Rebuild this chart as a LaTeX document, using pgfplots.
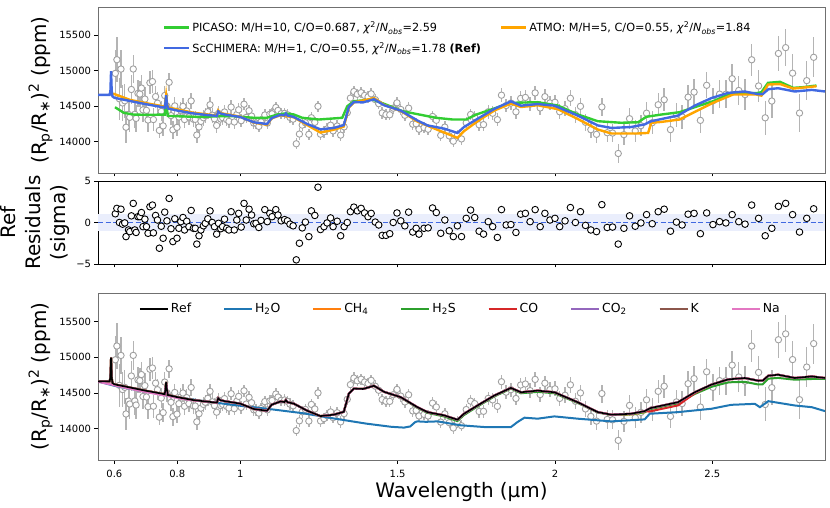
\documentclass[border=0pt]{standalone}
\usepackage{fontspec}
\setmainfont{DejaVu Sans}
\usepackage{pgfplots}
\pgfplotsset{compat=1.18}
\usepackage{pgfplotstable}

\definecolor{picaso}{HTML}{32CD32}
\definecolor{atmo}{HTML}{FFA500}
\definecolor{chimera}{HTML}{4169E1}
\definecolor{tabblue}{HTML}{1F77B4}
\definecolor{taborange}{HTML}{FF7F0E}
\definecolor{tabgreen}{HTML}{2CA02C}
\definecolor{tabred}{HTML}{D62728}
\definecolor{tabpurple}{HTML}{9467BD}
\definecolor{tabbrown}{HTML}{8C564B}
\definecolor{tabpink}{HTML}{E377C2}
\definecolor{errgray}{HTML}{B4B4B4}
\definecolor{markgray}{HTML}{A0A0A0}
\definecolor{band}{RGB}{234,238,252}
\definecolor{framegray}{HTML}{707070}

% observed spectrum: wavelength, depth (ppm), error (ppm), residual (sigma)
\pgfplotstableread{
x y err r
0.603 14964 330 1.05
0.608 15157 320 1.7
0.616 14606 300 0.0
0.621 15025 265 1.6
0.626 14547 250 -0.2
0.633 14578 240 -0.05
0.637 14205 225 -1.7
0.645 14386 215 -0.9
0.649 14345 210 -1.1
0.654 14737 207 0.8
0.660 15026 200 2.3
0.665 14387 195 -0.9
0.669 14330 190 -1.2
0.675 14682 185 0.7
0.681 14673 180 0.7
0.686 14757 178 1.2
0.691 14450 175 -0.5
0.697 14602 172 0.4
0.702 14443 170 -0.5
0.707 14307 167 -1.3
0.713 14832 164 1.9
0.721 14849 160 2.1
0.724 14313 158 -1.25
0.731 14637 155 0.85
0.737 14545 150 0.3
0.743 14160 110 -3.1
0.749 14428 140 -0.45
0.755 14224 138 -1.9
0.760 14652 136 1.25
0.767 14503 134 0.2
0.774 14838 127 2.9
0.780 14369 127 -0.75
0.786 14168 126 -2.3
0.792 14506 125 0.45
0.799 14203 125 -1.9
0.805 14349 124 -0.7
0.811 14443 123 0.1
0.818 14499 122 0.6
0.823 14313 121 -0.9
0.830 14434 120 0.15
0.837 14350 119 -0.5
0.844 14576 118 1.45
0.851 14318 116 -0.7
0.857 14316 115 -0.7
0.862 14095 115 -2.6
0.869 14209 113 -1.6
0.875 14287 111 -0.9
0.883 14339 110 -0.4
0.889 14369 108 -0.1
0.897 14424 106 0.45
0.904 14522 105 1.4
0.911 14375 104 0.0
0.918 14324 102 -0.5
0.925 14230 100 -1.4
0.931 14400 99 -0.1
0.938 14322 98 -0.75
0.944 14340 97 -0.5
0.950 14420 96 0.4
0.957 14311 95 -0.7
0.964 14288 94 -0.9
0.971 14489 93 1.3
0.981 14279 92 -0.9
0.989 14384 90 0.3
0.995 14451 89 1.1
1.003 14297 88 -0.55
1.012 14530 87 2.3
1.019 14344 86 0.3
1.028 14438 85 1.6
1.036 14363 84 0.9
1.043 14263 83 -0.15
1.050 14263 82 -0.1
1.059 14217 81 -0.6
1.066 14281 80 0.25
1.078 14378 80 1.55
1.086 14263 80 0.1
1.094 14388 80 1.1
1.101 14394 80 0.7
1.113 14484 80 1.55
1.120 14442 80 0.9
1.130 14396 80 0.2
1.141 14401 80 0.35
1.150 14381 80 0.2
1.158 14343 80 -0.2
1.168 14319 80 -0.4
1.178 13972 80 -4.5
1.188 14109 80 -2.5
1.197 14235 80 -0.65
1.207 14268 80 0.05
1.218 14105 80 -1.7
1.226 14339 80 1.4
1.237 14275 80 0.85
1.247 14500 80 4.25
1.255 14107 80 -0.85
1.266 14140 80 -0.5
1.276 14181 80 -0.05
1.287 14234 80 0.55
1.295 14154 80 -0.5
1.308 14222 80 0.15
1.319 14094 80 -1.6
1.330 14210 80 -0.5
1.340 14410 80 0.0
1.350 14616 80 1.3
1.361 14708 80 1.85
1.372 14670 80 1.4
1.384 14692 80 1.7
1.395 14653 80 1.15
1.406 14632 80 0.7
1.416 14676 80 1.1
1.429 14594 80 0.05
1.440 14537 80 -0.3
1.451 14407 80 -1.55
1.463 14382 80 -1.55
1.475 14381 80 -1.35
1.486 14474 80 0.0
1.498 14549 80 1.15
1.510 14456 80 0.2
1.523 14374 80 -0.4
1.535 14474 80 1.25
1.548 14248 80 -1.15
1.559 14254 80 -0.7
1.568 14177 80 -1.4
1.584 14199 80 -0.7
1.597 14177 80 -0.65
1.611 14357 80 1.75
1.623 14303 80 1.2
1.637 14091 80 -1.3
1.650 14207 80 0.3
1.664 14083 80 -1.0
1.677 14008 80 -1.7
1.690 14093 80 -0.4
1.703 14040 80 -1.7
1.718 14267 80 0.5
1.732 14385 80 1.5
1.745 14350 80 0.6
1.759 14240 92 -1.05
1.773 14242 94 -1.4
1.788 14423 95 0.1
1.802 14402 96 -0.5
1.817 14312 96 -1.8
1.830 14657 96 1.55
1.845 14511 97 -0.3
1.860 14546 97 -0.25
1.876 14422 98 -1.2
1.891 14611 100 1.0
1.906 14625 100 1.1
1.921 14532 102 0.1
1.937 14689 103 1.55
1.953 14477 103 -0.5
1.968 14636 104 1.1
1.984 14547 104 0.3
2.000 14557 105 0.5
2.015 14423 107 -0.5
2.032 14467 109 0.2
2.049 14613 111 1.8
2.065 14383 113 0.0
2.081 14500 115 1.3
2.097 14275 117 -0.35
2.114 14171 120 -0.9
2.132 14105 123 -1.1
2.149 14491 126 2.15
2.166 14128 130 -0.6
2.183 14123 133 -0.55
2.201 13835 140 -2.6
2.219 14101 145 -0.7
2.237 14325 148 0.8
2.255 14152 150 -0.45
2.273 14227 152 -0.05
2.291 14403 155 0.95
2.309 14269 158 -0.15
2.328 14522 162 1.3
2.347 14593 165 1.6
2.367 14171 168 -1.05
2.386 14374 170 0.05
2.404 14351 172 -0.3
2.423 14629 175 1.0
2.442 14700 178 1.1
2.462 14302 180 -1.35
2.482 14796 183 1.15
2.502 14577 186 -0.25
2.523 14672 195 0.1
2.543 14670 200 -0.05
2.563 14889 205 0.95
2.584 14723 210 0.1
2.604 14665 215 -0.2
2.625 15156 222 2.1
2.647 14787 230 0.5
2.668 14338 238 -1.6
2.689 14574 245 -0.7
2.710 15245 252 1.95
2.733 15327 258 2.3
2.755 14967 265 0.95
2.777 14405 270 -1.15
2.800 14862 275 0.5
2.822 15191 280 1.65
}\obs

% reference model (ScCHIMERA) and species contributions
\pgfplotstableread{
x ref h2s co ch4 k na
0.548 14660 14660 14660 14660 14660 14655
0.585 14662 14662 14662 14662 14662 14622
0.5875 14720 14720 14720 14720 14720 14620
0.5895 14995 14995 14995 14995 14995 14618
0.5915 14720 14720 14720 14720 14720 14616
0.594 14640 14640 14640 14640 14640 14614
0.600 14620 14620 14620 14620 14620 14605
0.650 14575 14575 14575 14575 14575 14558
0.700 14530 14530 14530 14530 14530 14512
0.750 14490 14490 14490 14490 14490 14472
0.760 14480 14480 14480 14480 14480 14462
0.7625 14560 14560 14560 14560 14478 14545
0.7645 14655 14655 14655 14655 14476 14640
0.7665 14560 14560 14560 14560 14474 14548
0.770 14470 14470 14470 14470 14470 14455
0.800 14440 14440 14440 14440 14440 14428
0.850 14400 14400 14400 14400 14400 14395
0.900 14375 14375 14375 14375 14375 14375
0.926 14365 14365 14365 14365 14365 14365
0.930 14425 14425 14425 14425 14425 14425
0.936 14400 14400 14400 14400 14400 14400
0.950 14385 14385 14385 14385 14385 14385
1.000 14350 14350 14350 14350 14350 14350
1.043 14275 14275 14275 14275 14275 14275
1.085 14250 14250 14250 14250 14250 14250
1.100 14335 14335 14335 14335 14335 14335
1.128 14380 14380 14380 14380 14380 14380
1.140 14372 14372 14372 14372 14372 14372
1.145 14400 14400 14400 14400 14400 14400
1.150 14370 14370 14370 14370 14370 14370
1.170 14350 14350 14350 14350 14350 14350
1.213 14250 14250 14250 14250 14250 14250
1.255 14175 14175 14175 14175 14175 14175
1.297 14195 14195 14195 14195 14195 14195
1.329 14235 14235 14235 14235 14235 14235
1.345 14490 14490 14490 14490 14490 14490
1.361 14560 14560 14560 14560 14560 14560
1.390 14555 14555 14555 14555 14555 14555
1.425 14600 14600 14600 14600 14600 14600
1.457 14515 14515 14515 14515 14515 14515
1.510 14440 14435 14440 14440 14440 14440
1.563 14300 14290 14300 14300 14300 14300
1.595 14231 14220 14231 14231 14231 14231
1.648 14185 14170 14185 14185 14185 14185
1.690 14125 14105 14125 14125 14125 14125
1.711 14208 14190 14208 14208 14208 14208
1.754 14324 14310 14324 14324 14324 14324
1.807 14463 14450 14463 14463 14463 14463
1.860 14570 14560 14570 14570 14570 14570
1.892 14509 14495 14509 14509 14509 14509
1.945 14532 14515 14532 14532 14532 14532
1.998 14509 14495 14509 14509 14509 14509
2.072 14370 14360 14370 14370 14370 14370
2.136 14231 14225 14231 14231 14231 14231
2.179 14195 14190 14195 14195 14195 14195
2.242 14208 14200 14208 14198 14208 14208
2.285 14245 14230 14245 14228 14245 14245
2.300 14280 14265 14238 14280 14280 14280
2.306 14290 14275 14245 14290 14290 14290
2.391 14370 14355 14325 14370 14370 14370
2.444 14509 14485 14495 14509 14509 14509
2.497 14616 14585 14616 14616 14616 14616
2.550 14689 14648 14689 14689 14689 14689
2.603 14709 14655 14709 14709 14709 14709
2.646 14671 14618 14671 14671 14671 14671
2.660 14672 14620 14672 14672 14672 14672
2.678 14741 14700 14741 14741 14741 14741
2.709 14755 14710 14755 14755 14755 14755
2.762 14709 14685 14709 14709 14709 14709
2.816 14731 14695 14731 14731 14731 14731
2.858 14709 14695 14709 14709 14709 14709
}\species

\pgfplotstableread{
x y
0.548 14660
0.600 14600
0.700 14515
0.800 14440
0.900 14375
1.000 14320
1.100 14270
1.200 14215
1.300 14140
1.400 14070
1.480 14025
1.520 14014
1.540 14030
1.556 14092
1.563 14101
1.590 14095
1.627 14101
1.701 14046
1.775 14022
1.860 14022
1.881 14092
1.903 14153
1.945 14139
1.998 14171
2.072 14139
2.179 14101
2.285 14129
2.301 14208
2.391 14231
2.497 14278
2.560 14333
2.635 14347
2.651 14300
2.678 14384
2.762 14324
2.816 14300
2.858 14245
}\water

\pgfplotstableread{
x y
0.602 14487
0.630 14408
0.660 14384
0.700 14380
0.760 14383
0.7625 14480
0.7645 14640
0.7665 14480
0.770 14365
0.800 14360
0.873 14350
0.930 14360
0.980 14360
1.043 14338
1.085 14338
1.117 14384
1.144 14400
1.170 14385
1.197 14338
1.250 14314
1.324 14338
1.340 14501
1.361 14572
1.420 14596
1.463 14525
1.516 14431
1.569 14384
1.622 14338
1.675 14314
1.718 14314
1.750 14384
1.797 14455
1.860 14549
1.945 14558
2.009 14511
2.073 14384
2.136 14290
2.210 14268
2.264 14275
2.290 14352
2.338 14384
2.396 14417
2.502 14572
2.566 14690
2.640 14685
2.656 14700
2.677 14831
2.715 14845
2.757 14760
2.789 14770
2.831 14793
}\picaso

\pgfplotstableread{
x y
0.596 14680
0.650 14590
0.700 14545
0.760 14495
0.7625 14570
0.7645 14650
0.7665 14570
0.770 14485
0.850 14410
0.926 14370
0.930 14440
0.936 14405
1.000 14355
1.043 14270
1.085 14240
1.100 14330
1.128 14375
1.170 14345
1.213 14235
1.255 14130
1.297 14170
1.329 14215
1.345 14480
1.361 14555
1.425 14615
1.457 14520
1.510 14435
1.563 14285
1.648 14130
1.690 14056
1.711 14150
1.754 14290
1.807 14440
1.860 14540
1.892 14490
1.945 14515
2.009 14460
2.073 14320
2.136 14173
2.179 14117
2.264 14117
2.296 14125
2.306 14268
2.338 14280
2.396 14314
2.502 14549
2.566 14666
2.640 14666
2.656 14650
2.677 14807
2.715 14814
2.757 14750
2.831 14783
}\atmo

\pgfplotsset{
  panel/.style={
    scale only axis, width=727bp,
    xmin=0.548, xmax=2.858,
    xtick={0.6,0.8,1,1.5,2,2.5},
    tick align=outside, major tick length=3.5bp,
    xtick pos=bottom, ytick pos=left,
    tick style={line width=0.8bp, black},
    tick label style={font=\fontsize{10}{12}\selectfont},
    /pgf/number format/assume math mode=true,
    scaled ticks=false,
    label style={font=\fontsize{20}{24}\selectfont},
    axis line style={line width=0.9bp},
    clip=true, clip marker paths=true,
  },
  spec/.style={
    panel, height=167bp, ymin=13560, ymax=15900,
    ytick={14000,14500,15000,15500},
    yticklabels={14000,14500,15000,15500},
    axis line style={line width=0.9bp, framegray},
    ylabel={(R\textsubscript{p}/R\textsubscript{∗})\textsuperscript{2} (ppm)},
  },
  datapts/.style={only marks, mark=*, mark size=3.2bp,
    mark options={fill=white, draw=markgray, line width=0.9bp},
    error bars/y dir=both, error bars/y explicit, error bars/error mark=none,
    error bars/error bar style={errgray, line width=1.4bp}},
}

\newcommand{\chisq}{\textit{χ}\textsuperscript{2}/\textit{N}\textsubscript{\textit{obs}}}

\begin{document}
\begin{tikzpicture}
\useasboundingbox (0,0) rectangle (830bp,508bp);

% ---------- top panel ----------
\begin{axis}[spec, at={(98bp,335bp)}, anchor=south west, height=166bp,
  xticklabels={},
  legend columns=2,
  legend cell align=left,
  legend style={at={(0.085,0.935)}, anchor=north west, draw=none, fill=none,
    font=\fontsize{11.3}{13}\selectfont,
    /tikz/every even column/.append style={column sep=17bp},
    row sep=5bp},
  legend image code/.code={\draw[#1] (0bp,0bp) -- (25bp,0bp);},
]
\addplot[forget plot, datapts] table[x=x, y=y, y error=err] {\obs};
\addplot[picaso, line width=2.4bp] table[x=x, y=y] {\picaso};
\addlegendentry{PICASO: M/H=10, C/O=0.687, \chisq=2.59}
\addplot[atmo, line width=2.4bp] table[x=x, y=y] {\atmo};
\addlegendentry{ATMO: M/H=5, C/O=0.55, \chisq=1.84}
\addplot[chimera, line width=2.4bp] table[x=x, y=ref] {\species};
\addlegendentry{ScCHIMERA: M/H=1, C/O=0.55, \chisq=1.78 \textbf{(Ref)}}
\end{axis}

% ---------- residual panel ----------
\begin{axis}[panel, at={(98bp,244bp)}, anchor=south west, height=83bp,
  xticklabels={},
  ymin=-5, ymax=5, ytick={-5,0,5}, yticklabels={−5,0,5},
  ylabel={Ref\\Residuals\\(sigma)},
  ylabel style={align=center, font=\fontsize{20}{25}\selectfont},
]
\addplot[draw=none, fill=band] coordinates {(0.548,1) (2.858,1)} \closedcycle;
\addplot[draw=none, fill=band] coordinates {(0.548,-1) (2.858,-1)} \closedcycle;
\addplot[chimera, line width=1.2bp, dash pattern=on 5bp off 2.5bp] coordinates {(0.548,0) (2.858,0)};
\addplot[only marks, mark=*, mark size=3.3bp,
  mark options={fill=white, draw=black, line width=0.9bp}] table[x=x, y=r] {\obs};
\end{axis}

% ---------- bottom panel ----------
\begin{axis}[spec, at={(98bp,48bp)}, anchor=south west,
  xticklabels={0.6,0.8,1,1.5,2,2.5},
  xticklabel style={yshift=-3bp},
  xlabel={Wavelength (µm)},
  xlabel style={yshift=2bp},
  legend columns=8,
  legend cell align=left,
  legend style={at={(0.052,0.965)}, anchor=north west, draw=none, fill=none,
    font=\fontsize{12.5}{14}\selectfont,
    /tikz/every even column/.append style={column sep=30bp}},
  legend image code/.code={\draw[#1] (0bp,0bp) -- (28bp,0bp);},
]
\addlegendimage{black, line width=2bp}
\addlegendentry{Ref}
\addplot[forget plot, datapts] table[x=x, y=y, y error=err] {\obs};
\addplot[tabblue, line width=2bp] table[x=x, y=y] {\water};
\addlegendentry{H\textsubscript{2}O}
\addplot[taborange, line width=2bp] table[x=x, y=ch4] {\species};
\addlegendentry{CH\textsubscript{4}}
\addplot[tabgreen, line width=2bp] table[x=x, y=h2s] {\species};
\addlegendentry{H\textsubscript{2}S}
\addplot[tabred, line width=2bp] table[x=x, y=co] {\species};
\addlegendentry{CO}
\addplot[tabpurple, line width=2bp] table[x=x, y=ref] {\species};
\addlegendentry{CO\textsubscript{2}}
\addplot[tabbrown, line width=2bp] table[x=x, y=k] {\species};
\addlegendentry{K}
\addplot[tabpink, line width=2bp] table[x=x, y=na] {\species};
\addlegendentry{Na}
\addplot[black, line width=1.6bp, forget plot] table[x=x, y=ref] {\species};
\end{axis}
\end{tikzpicture}
\end{document}
